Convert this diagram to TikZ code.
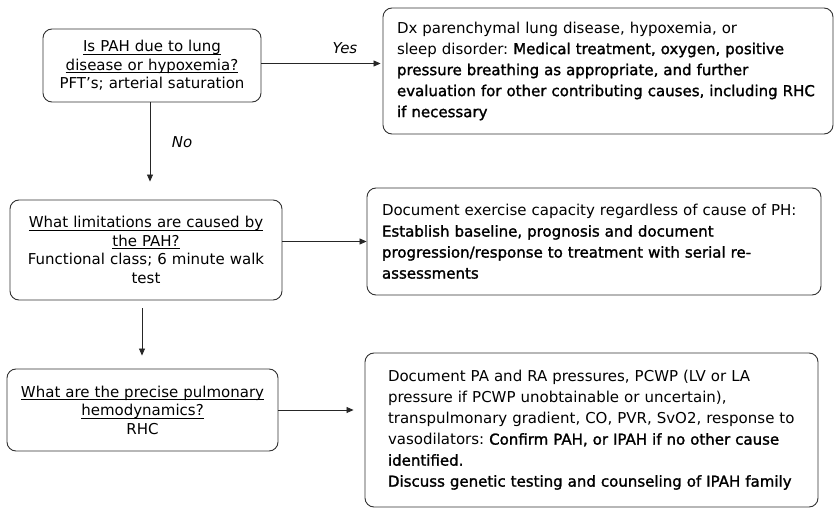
\documentclass[tikz,border=0pt]{standalone}
\usepackage{fontspec}
\setmainfont{DejaVu Sans}
\newfontfamily\mybold[FakeBold=1.5]{DejaVu Sans}
\newcommand\myul[1]{\leavevmode\setbox0\hbox{#1}\rlap{\rule[-2.6pt]{\wd0}{0.6pt}}\box0}
\usetikzlibrary{arrows.meta}
\begin{document}
\frenchspacing
\begin{tikzpicture}[x=1pt,y=-1pt,
 box/.style={draw=black!80, line width=0.9pt, rounded corners=9pt, inner ysep=0pt, fill=white},
 qbox/.style={box, align=center, inner xsep=4pt, font=\fontsize{15}{18.5}\selectfont},
 abox/.style={box, align=left, font=\fontsize{15}{21}\selectfont},
 arr/.style={draw=black!85, line width=0.8pt, -{Triangle[length=7pt,width=6pt]}},
 lbl/.style={font=\itshape\fontsize{15}{18}\selectfont}
]
\useasboundingbox (0,0) rectangle (839,516);
% left question boxes
\node[qbox, minimum width=218pt, minimum height=73pt, text width=210pt] (b1) at (152,65.5)
 {\myul{Is PAH due to lung}\\ \myul{disease or hypoxemia?}\\ PFT's; arterial saturation};
\node[qbox, minimum width=272pt, minimum height=100pt, text width=264pt] (b2) at (146,250)
 {\myul{What limitations are caused by}\\ \myul{the PAH?}\\ Functional class; 6 minute walk\\ test};
\node[qbox, minimum width=271pt, minimum height=82pt, text width=263pt] (b3) at (142.5,410)
 {\myul{What are the precise pulmonary}\\ \myul{hemodynamics?}\\ RHC};
% right answer boxes
\node[abox, minimum width=450pt, minimum height=126pt, inner xsep=14pt, text width=422pt] (r1) at (608,71)
 {Dx parenchymal lung disease, hypoxemia, or\\
  sleep disorder:\ {\mybold Medical treatment, oxygen, positive}\\
  {\mybold pressure breathing as appropriate, and further}\\
  {\mybold evaluation for other contributing causes, including RHC}\\
  {\mybold if necessary}};
\node[abox, minimum width=454pt, minimum height=107pt, inner xsep=15pt, text width=424pt] (r2) at (594,241.5)
 {Document exercise capacity regardless of cause of PH:\\
  {\mybold Establish baseline, prognosis and document}\\
  {\mybold progression/response to treatment with serial re-}\\
  {\mybold assessments}};
\node[abox, minimum width=453pt, minimum height=154pt, inner xsep=23pt, text width=407pt] (r3) at (591.5,430)
 {Document PA and RA pressures, PCWP (LV or LA\\
  pressure if PCWP unobtainable or uncertain),\\
  transpulmonary gradient, CO, PVR, SvO2, response to\\
  vasodilators:\ {\mybold Confirm PAH, or IPAH if no other cause}\\
  {\mybold identified.}\\
  {\mybold Discuss genetic testing and counseling of IPAH family}};
% connectors
\draw[arr, shorten >=2pt] ([yshift=2pt]b1.east) -- ([yshift=2pt]b1.east -| r1.west);
\node[lbl] (yes) at (345,48) {Yes};
\draw[arr, shorten >=18pt] ([xshift=-2pt]b1.south) -- ([xshift=-2pt]b1.south |- b2.north);
\node[lbl] (no) at (182,142) {No};
\draw[arr] (r2.west -| b2.east) -- (r2.west);
\draw[arr, shorten <=8pt, shorten >=13pt] ([xshift=-4pt]b2.south) -- ([xshift=-4pt]b2.south |- b3.north);
\draw[arr, shorten >=11pt] (b3.east) -- (b3.east -| r3.west);
\end{tikzpicture}
\end{document}
